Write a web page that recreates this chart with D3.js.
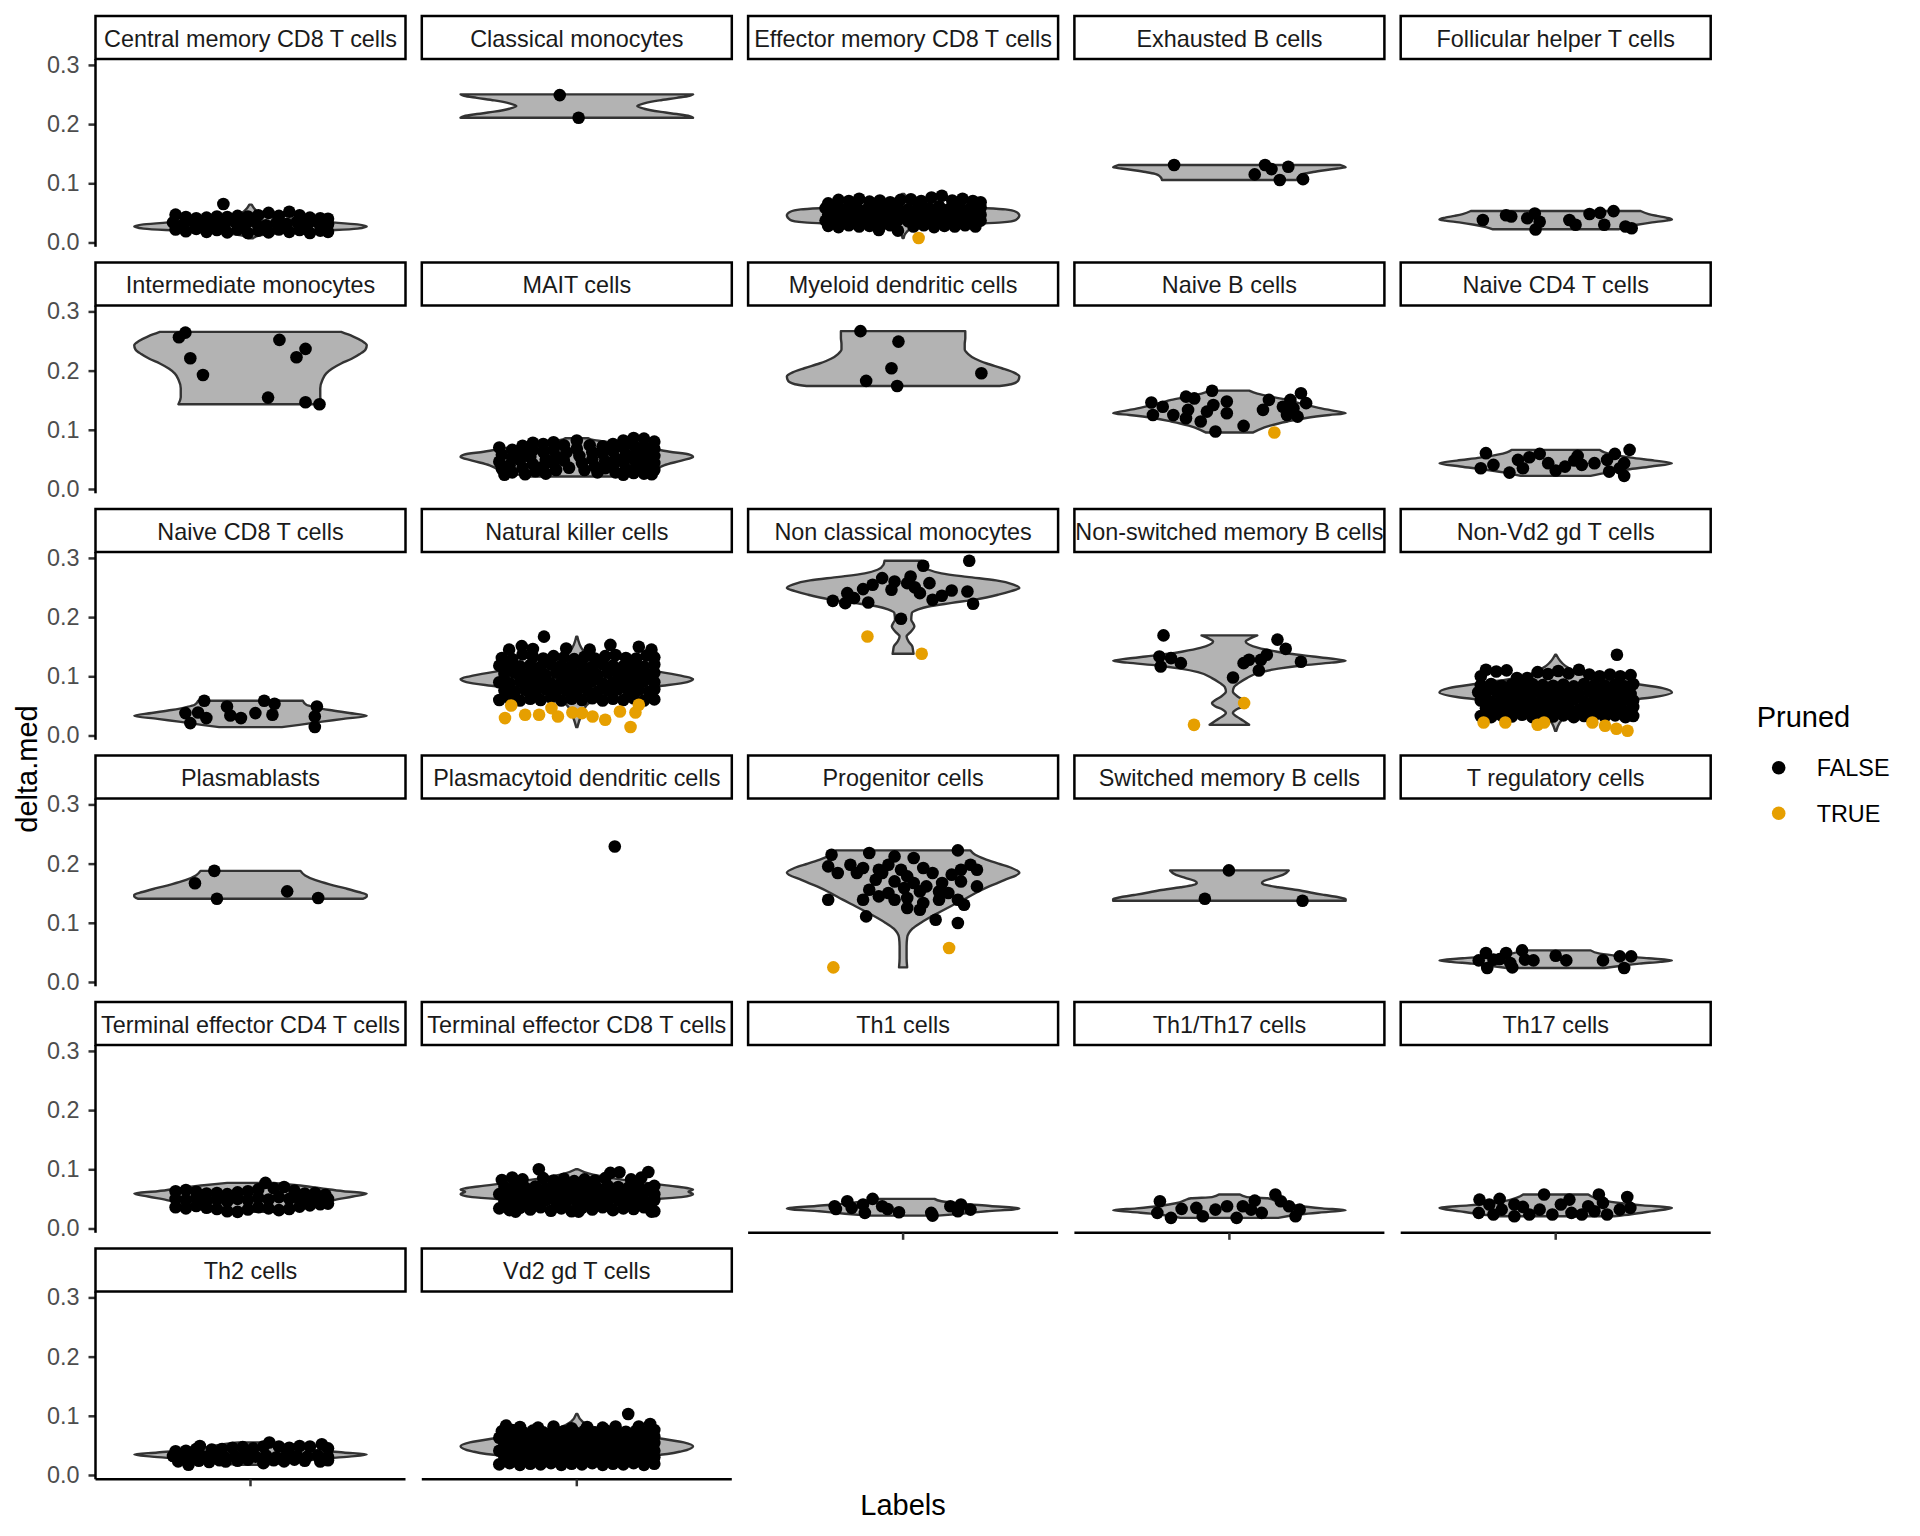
<!DOCTYPE html>
<html><head><meta charset="utf-8">
<script src="https://cdn.jsdelivr.net/npm/d3@7"></script>
<style>body{margin:0;background:#fff}svg{display:block}text{font-family:"Liberation Sans",Arial,Helvetica,sans-serif}</style>
</head><body>
<svg id="chart" width="1920" height="1536"></svg>
<script>
// ---------------- DATA ----------------
const labels = [
"Central memory CD8 T cells","Classical monocytes","Effector memory CD8 T cells","Exhausted B cells","Follicular helper T cells",
"Intermediate monocytes","MAIT cells","Myeloid dendritic cells","Naive B cells","Naive CD4 T cells",
"Naive CD8 T cells","Natural killer cells","Non classical monocytes","Non-switched memory B cells","Non-Vd2 gd T cells",
"Plasmablasts","Plasmacytoid dendritic cells","Progenitor cells","Switched memory B cells","T regulatory cells",
"Terminal effector CD4 T cells","Terminal effector CD8 T cells","Th1 cells","Th1/Th17 cells","Th17 cells",
"Th2 cells","Vd2 gd T cells"];

// violin outline per label: "delta.med,relativeWidth" pairs
const violins = [
"0.0071,0.02 0.012,0.08 0.016,0.25 0.019,0.5 0.021,0.73 0.0235,0.92 0.027,1 0.0305,0.92 0.0335,0.73 0.037,0.45 0.041,0.25 0.046,0.12 0.052,0.06 0.058,0.03 0.064,0.01",
"0.2108,1 0.2135,0.97 0.217,0.86 0.221,0.71 0.226,0.58 0.2306,0.52 0.235,0.58 0.24,0.71 0.2443,0.86 0.2478,0.97 0.2503,1",
"0.0075,0.005 0.015,0.02 0.022,0.06 0.027,0.2 0.031,0.55 0.034,0.85 0.038,0.97 0.046,1 0.052,0.97 0.056,0.88 0.059,0.6 0.063,0.3 0.068,0.12 0.075,0.04 0.082,0.01",
"0.1056,0.58 0.11,0.59 0.1135,0.61 0.116,0.64 0.119,0.72 0.122,0.82 0.125,0.93 0.127,1 0.129,0.98 0.131,0.95",
"0.0223,0.54 0.026,0.6 0.03,0.7 0.034,0.83 0.037,0.95 0.039,1 0.042,0.95 0.045,0.87 0.048,0.8 0.0532,0.73",
"0.1432,0.62 0.155,0.6 0.17,0.6 0.185,0.62 0.195,0.65 0.203,0.7 0.212,0.78 0.22,0.87 0.228,0.94 0.236,0.99 0.243,1 0.25,0.96 0.258,0.88 0.2655,0.78",
"0.021,0.4 0.026,0.55 0.032,0.66 0.04,0.75 0.048,0.9 0.054,1 0.058,0.97 0.063,0.8 0.068,0.65 0.075,0.45 0.08,0.25 0.083,0.14 0.0858,0.1",
"0.174,0.83 0.177,0.93 0.183,0.99 0.19,1 0.197,0.95 0.204,0.85 0.212,0.72 0.22,0.62 0.228,0.56 0.236,0.53 0.245,0.53 0.255,0.535 0.2667,0.535",
"0.0953,0.2 0.1,0.25 0.107,0.35 0.114,0.5 0.12,0.66 0.125,0.86 0.128,1 0.132,0.9 0.138,0.75 0.145,0.6 0.1505,0.5 0.156,0.35 0.161,0.24 0.1662,0.17",
"0.0221,0.3 0.028,0.45 0.033,0.62 0.038,0.82 0.0436,1 0.048,0.85 0.053,0.65 0.058,0.5 0.062,0.42 0.066,0.38",
"0.0142,0.27 0.018,0.42 0.023,0.6 0.028,0.8 0.0333,1 0.038,0.85 0.043,0.68 0.048,0.55 0.052,0.48 0.0586,0.45",
"0.0142,0.005 0.03,0.03 0.05,0.08 0.065,0.2 0.075,0.4 0.083,0.7 0.09,0.95 0.0953,1 0.1,0.92 0.108,0.7 0.118,0.4 0.13,0.15 0.145,0.05 0.167,0.005",
"0.138,0.09 0.144,0.085 0.1503,0.08 0.158,0.05 0.1672,0.03 0.176,0.07 0.184,0.097 0.19,0.085 0.1954,0.07 0.2068,0.075 0.213,0.13 0.218,0.22 0.224,0.42 0.23,0.63 0.238,0.82 0.244,0.93 0.249,1 0.255,0.95 0.262,0.8 0.268,0.55 0.274,0.33 0.28,0.22 0.288,0.17 0.2951,0.16",
"0.018,0.17 0.025,0.12 0.031,0.07 0.0378,0.03 0.044,0.06 0.049,0.12 0.0547,0.15 0.06,0.12 0.066,0.07 0.0743,0.03 0.082,0.04 0.0885,0.08 0.097,0.15 0.107,0.27 0.113,0.42 0.1183,0.62 0.123,0.88 0.1262,1 0.13,0.87 0.1334,0.72 0.138,0.52 0.1419,0.4 0.148,0.25 0.1588,0.14 0.164,0.18 0.1691,0.24",
"0.0079,0.005 0.02,0.03 0.035,0.1 0.048,0.25 0.058,0.55 0.065,0.85 0.0727,1 0.08,0.92 0.0873,0.68 0.095,0.4 0.105,0.2 0.118,0.08 0.1363,0.005",
"0.1407,0.97 0.1445,1 0.1474,1 0.152,0.93 0.158,0.82 0.165,0.68 0.172,0.56 0.18,0.47 0.1878,0.43",
"",
"0.0247,0.035 0.04,0.03 0.06,0.03 0.075,0.035 0.0828,0.05 0.09,0.08 0.0997,0.15 0.108,0.22 0.1166,0.3 0.128,0.41 0.1391,0.52 0.15,0.62 0.1615,0.74 0.172,0.87 0.1845,1 0.193,0.93 0.2,0.82 0.208,0.7 0.215,0.62 0.2223,0.58",
"0.1373,1 0.14,1 0.1435,0.93 0.147,0.82 0.1503,0.72 0.155,0.6 0.16,0.42 0.164,0.31 0.1672,0.28 0.171,0.3 0.176,0.38 0.181,0.46 0.1885,0.51",
"0.0236,0.42 0.027,0.55 0.031,0.72 0.034,0.9 0.0365,1 0.04,0.8 0.044,0.55 0.048,0.38 0.0534,0.3",
"0.028,0.3 0.032,0.4 0.04,0.55 0.048,0.72 0.054,0.88 0.059,1 0.063,0.8 0.068,0.6 0.073,0.4 0.077,0.2",
"0.0285,0.005 0.035,0.05 0.042,0.15 0.048,0.55 0.053,0.9 0.058,1 0.062,0.96 0.066,1 0.071,0.85 0.077,0.6 0.085,0.3 0.093,0.1 0.1,0.01",
"0.0218,0.3 0.025,0.5 0.029,0.72 0.0336,1 0.038,0.75 0.042,0.5 0.046,0.33 0.05,0.27",
"0.0179,0.42 0.024,0.62 0.028,0.85 0.0307,1 0.034,0.8 0.038,0.6 0.043,0.45 0.048,0.38 0.051,0.33 0.053,0.15 0.0573,0.09",
"0.0206,0.5 0.024,0.65 0.029,0.82 0.0348,1 0.039,0.75 0.043,0.55 0.048,0.4 0.0573,0.28",
"0.0172,0.1 0.02,0.3 0.027,0.6 0.031,0.85 0.0346,1 0.038,0.8 0.043,0.5 0.048,0.35 0.053,0.2 0.055,0.1",
"0.0172,0.005 0.022,0.05 0.028,0.2 0.033,0.65 0.04,0.9 0.0487,1 0.055,0.92 0.0629,0.68 0.072,0.35 0.08,0.15 0.09,0.05 0.1031,0.005"
];

// jittered points (Pruned = FALSE): "jitterOffset,delta.med"
const falsePts = [
"-.29,.047 -.25,.043 -.21,.041 -.17,.042 -.13,.044 -.09,.043 -.05,.045 -.01,.044 .03,.046 .07,.05 .11,.045 .15,.052 .19,.046 .23,.042 .27,.041 .30,.040 -.30,.034 -.26,.031 -.22,.035 -.18,.030 -.14,.033 -.10,.030 -.06,.035 -.02,.031 .02,.034 .06,.029 .10,.033 .14,.031 .18,.035 .22,.030 .26,.034 .30,.031 -.29,.022 -.25,.019 -.21,.023 -.17,.018 -.13,.021 -.09,.017 -.05,.022 -.01,.016 .03,.020 .07,.017 .11,.022 .15,.018 .19,.021 .23,.016 .27,.020 .30,.018 -.105,.065",
"-.066,.249 .007,.2108",
"-.29,.066 -.25,.072 -.21,.070 -.17,.074 -.13,.069 -.09,.071 -.05,.068 -.01,.072 .03,.073 .07,.070 .11,.076 .15,.079 .19,.071 .23,.074 .27,.070 .30,.068 -.30,.058 -.26,.060 -.22,.057 -.18,.059 -.14,.056 -.10,.060 -.06,.057 -.02,.059 .02,.056 .06,.060 .10,.058 .14,.061 .18,.057 .22,.060 .26,.058 .30,.059 -.29,.047 -.25,.045 -.21,.048 -.17,.046 -.13,.049 -.09,.045 -.05,.047 -.01,.046 .03,.048 .07,.045 .11,.047 .15,.049 .19,.046 .23,.048 .27,.045 .30,.047 -.30,.037 -.26,.035 -.22,.038 -.18,.036 -.14,.034 -.10,.037 -.06,.035 -.02,.038 .02,.036 .06,.034 .10,.037 .14,.035 .18,.038 .22,.036 .26,.034 .30,.037 -.29,.028 -.25,.026 -.21,.029 -.17,.027 -.13,.028 -.09,.026 -.05,.029 .04,.027 .08,.029 .12,.026 .16,.028 .20,.027 .24,.029 .28,.027 -.094,.021 -.02,.02",
"-.214,.131 .138,.131 .163,.124 .228,.128 .098,.115 .195,.1056 .285,.107",
"-.282,.038 -.192,.046 -.172,.044 -.081,.049 -.11,.041 -.062,.035 -.078,.022 .053,.038 .077,.030 .131,.048 .172,.050 .224,.053 .188,.030 .27,.027 .294,.024",
"-.252,.2642 -.277,.2564 -.233,.2209 -.184,.1927 .112,.2519 .213,.2367 .178,.2226 .068,.1544 .213,.1466 .267,.1432",
"-.30,.070 -.29,.058 -.30,.046 -.29,.034 -.28,.024 -.25,.066 -.25,.052 -.26,.040 -.25,.028 -.21,.073 -.21,.061 -.22,.049 -.21,.036 -.20,.025 -.17,.078 -.17,.066 -.18,.054 -.17,.042 -.16,.030 -.13,.076 -.13,.063 -.12,.050 -.13,.038 -.12,.026 -.09,.079 -.09,.066 -.08,.055 -.09,.043 -.08,.032 -.05,.074 -.04,.062 -.05,.048 -.03,.036 .0,.082 .0,.068 .01,.056 .02,.044 .03,.032 .05,.074 .06,.062 .06,.050 .07,.038 .08,.028 .10,.072 .10,.060 .11,.047 .11,.035 .14,.076 .14,.064 .15,.052 .14,.040 .15,.028 .18,.082 .18,.070 .19,.058 .18,.046 .19,.034 .18,.024 .22,.086 .22,.074 .23,.062 .22,.050 .23,.038 .22,.027 .26,.085 .26,.072 .27,.060 .26,.048 .27,.036 .26,.026 .30,.080 .30,.068 .30,.056 .30,.044 .30,.032 .29,.025",
"-.165,.2667 -.018,.249 -.045,.204 .303,.1956 -.143,.1826 -.023,.174",
"-.302,.146 -.296,.125 -.258,.139 -.217,.125 -.168,.1196 -.160,.1336 -.168,.156 -.136,.153 -.067,.166 -.111,.1139 -.087,.1307 -.062,.142 -.054,.097 -.010,.1477 -.010,.128 .055,.1066 .130,.1336 .153,.1505 .207,.139 .223,.125 .236,.1505 .264,.1223 .277,.1618 .297,.145 .248,.1365",
"-.27,.0605 -.29,.0351 -.241,.0407 -.179,.0277 -.146,.0491 -.127,.0351 -.102,.0537 -.062,.0593 0,.0311 .036,.0378 .072,.048 .101,.0407 .15,.0436 .199,.0491 .229,.0593 .286,.066 .265,.0436 .207,.0294 .265,.0221 .248,.0351 -.029,.0436 .085,.0559",
"-.179,.0586 -.252,.0378 -.233,.0209 -.203,.0389 -.171,.0294 -.091,.049 -.078,.0338 -.037,.0294 .019,.0378 .053,.0586 .093,.0535 .085,.035 .257,.049 .249,.0321 .249,.0142",
"-.30,.060 -.26,.063 -.22,.059 -.18,.062 -.14,.060 -.10,.064 -.06,.059 -.02,.062 .02,.060 .06,.063 .10,.059 .14,.062 .18,.060 .22,.063 .26,.059 .30,.061 -.28,.076 -.24,.074 -.20,.077 -.16,.075 -.12,.078 -.08,.074 -.04,.076 .0,.075 .04,.077 .08,.074 .12,.076 .16,.078 .20,.075 .24,.077 .28,.074 .30,.078 -.30,.090 -.26,.088 -.22,.091 -.18,.089 -.14,.092 -.10,.088 -.06,.090 -.02,.091 .02,.089 .06,.092 .10,.088 .14,.090 .18,.091 .22,.089 .26,.092 .30,.090 -.28,.104 -.24,.106 -.20,.103 -.16,.105 -.12,.102 -.08,.106 -.04,.104 .0,.103 .04,.105 .08,.102 .12,.106 .16,.104 .20,.103 .24,.105 .28,.102 .30,.106 -.30,.118 -.26,.120 -.22,.117 -.18,.119 -.14,.116 -.10,.120 -.06,.118 -.02,.117 .02,.119 .06,.116 .10,.120 .14,.118 .18,.117 .22,.119 .26,.116 .30,.120 -.29,.131 -.25,.129 -.21,.137 -.17,.133 -.13,.130 -.09,.134 -.05,.132 -.01,.129 .03,.133 .07,.130 .11,.134 .15,.136 .19,.131 .23,.130 .27,.135 .30,.132 -.127,.167 -.213,.151 -.262,.145 -.041,.147 .13,.153 .24,.15 .289,.145 .05,.145 -.17,.146",
".256,.2951 .078,.2867 .029,.2686 -.033,.2601 -.081,.2659 -.118,.2546 -.155,.2473 -.216,.2405 -.272,.2275 -.224,.2236 -.135,.2247 -.045,.2461 .016,.2574 .065,.2405 .102,.2574 .114,.2292 .188,.2449 .249,.2432 .271,.2225 -.008,.1971 -.19,.232 .045,.2505 .15,.236",
"-.255,.1691 -.271,.1334 -.266,.1166 -.226,.1307 -.188,.1222 .014,.0979 .055,.1222 .076,.1279 .114,.1098 .122,.1279 .145,.1363 .186,.162 .218,.1464 .277,.1245",
"-.29,.033 -.25,.031 -.21,.034 -.17,.032 -.13,.035 -.09,.031 -.05,.033 -.01,.032 .03,.034 .07,.031 .11,.033 .15,.035 .19,.032 .23,.034 .27,.031 .30,.033 -.27,.046 -.23,.044 -.19,.047 -.15,.045 -.11,.048 -.07,.044 -.03,.046 .01,.045 .05,.047 .09,.044 .13,.046 .17,.048 .21,.045 .25,.047 .29,.044 .30,.048 -.29,.059 -.25,.057 -.21,.060 -.17,.058 -.13,.061 -.09,.057 -.05,.059 -.01,.060 .03,.058 .07,.061 .11,.057 .15,.059 .19,.060 .23,.058 .27,.061 .30,.059 -.27,.072 -.23,.074 -.19,.071 -.15,.073 -.11,.070 -.07,.074 -.03,.072 .01,.071 .05,.073 .09,.070 .13,.074 .17,.072 .21,.071 .25,.073 .29,.070 -.30,.073 -.29,.085 -.25,.087 -.21,.084 -.17,.086 -.13,.083 -.09,.087 -.05,.085 -.01,.084 .03,.086 .07,.083 .11,.087 .15,.085 .19,.084 .23,.086 .27,.083 .30,.087 -.29,.1 -.27,.111 -.23,.108 -.19,.11 -.15,.097 -.11,.097 -.07,.107 -.03,.104 .01,.109 .05,.105 .09,.111 .13,.103 .17,.1 .21,.103 .25,.1 .29,.102 .237,.1363",
"-.14,.1878 -.215,.1669 -.13,.1407 .142,.1531 .262,.142",
".147,.229",
"-.277,.215 -.131,.2179 -.033,.2122 .041,.2095 .212,.2223 -.29,.1953 -.253,.1841 -.204,.1981 -.155,.1926 -.094,.1897 -.057,.1981 -.008,.1897 .016,.1784 .078,.1926 .114,.1841 .188,.1813 .224,.1897 .261,.1981 .286,.1897 -.106,.1728 -.033,.1699 .041,.1672 .09,.1615 .151,.1672 .224,.1699 .286,.1615 -.131,.1559 -.057,.1503 .004,.1588 .065,.153 .139,.153 -.29,.139 -.155,.139 -.094,.1446 -.033,.139 .016,.1419 .078,.1334 .139,.139 .212,.139 .236,.1306 .016,.125 .065,.1221 -.143,.1108 .126,.1052 .212,.0997 -.081,.1841 -.179,.1841 .175,.1503",
"-.002,.1885 -.095,.1407 .283,.1373",
"-.27,.049 -.298,.0365 -.265,.0236 -.241,.0377 -.192,.049 -.176,.0321 -.168,.0247 -.13,.0534 -.119,.0377 -.086,.0365 0,.0444 .041,.0365 .183,.0365 .248,.0433 .292,.0433 .265,.0236 -.217,.0389",
"-.29,.063 -.25,.065 -.21,.062 -.17,.059 -.13,.060 -.09,.058 -.05,.061 -.01,.063 .03,.066 .058,.077 .09,.068 .13,.070 .17,.064 .21,.059 .25,.060 .29,.057 -.29,.050 -.25,.048 -.21,.051 -.17,.047 -.13,.049 -.09,.046 -.05,.050 -.01,.048 .03,.052 .07,.049 .11,.053 .15,.050 .19,.048 .23,.051 .27,.049 .30,.050 -.29,.036 -.25,.034 -.21,.038 -.17,.035 -.13,.033 -.09,.029 -.05,.028 -.01,.032 .03,.036 .07,.034 .11,.031 .15,.033 .19,.037 .23,.039 .27,.041 .30,.042",
"-.30,.034 -.26,.031 -.22,.035 -.18,.032 -.14,.036 -.10,.030 -.06,.034 -.02,.029 .02,.035 .06,.032 .10,.036 .14,.031 .18,.034 .22,.033 .26,.036 .30,.029 -.28,.046 -.24,.044 -.20,.047 -.16,.045 -.12,.048 -.08,.044 -.04,.046 .0,.045 .04,.047 .08,.044 .12,.046 .16,.048 .20,.045 .24,.047 .28,.044 .30,.048 -.30,.058 -.26,.056 -.22,.059 -.18,.057 -.14,.060 -.10,.056 -.06,.058 -.02,.059 .02,.057 .06,.060 .10,.056 .14,.058 .18,.059 .22,.057 .26,.060 .30,.058 -.28,.070 -.24,.072 -.20,.069 -.16,.071 -.12,.068 -.08,.072 -.04,.070 .0,.069 .04,.071 .08,.068 .12,.072 .16,.070 .20,.069 .24,.071 .28,.068 .30,.072 -.29,.082 -.25,.086 -.21,.083 -.147,.100 -.13,.085 -.09,.081 -.05,.084 -.01,.080 .03,.083 .07,.081 .11,.085 .13,.094 .165,.095 .21,.083 .25,.086 .277,.0955 -.237,.0285 .007,.0285 .289,.0285",
"-.265,.0375 -.216,.046 -.199,.0348 -.155,.0404 -.148,.0264 -.118,.05 -.081,.0375 -.016,.0274 .109,.0264 .114,.0218 .183,.0375 .224,.0404 .261,.0319 .212,.029 -.26,.033 -.06,.033",
"-.269,.046 -.279,.0263 -.226,.0179 -.185,.0331 -.128,.0348 -.103,.0206 -.054,.0319 -.009,.0375 .028,.0179 .052,.0375 .098,.0471 .125,.0263 .178,.0573 .199,.046 .231,.0375 .256,.0206 .272,.0319 .084,.0319",
"-.295,.0488 -.298,.0263 -.257,.0404 -.217,.05 -.241,.0235 -.209,.0319 -.16,.0206 -.127,.0365 -.102,.0235 -.045,.0573 -.062,.0319 -.013,.0235 .02,.0404 .053,.0488 .061,.0263 .101,.0235 .126,.0375 .167,.0573 .183,.0432 .199,.0235 .248,.0319 .277,.0533 .289,.0348 -.16,.0404 .15,.029",
"-.29,.040 -.25,.041 -.21,.044 -.196,.049 -.15,.043 -.11,.044 -.07,.046 -.03,.047 .01,.045 .05,.048 .073,.055 .11,.048 .15,.046 .19,.049 .23,.048 .276,.052 .30,.045 -.30,.032 -.26,.030 -.22,.033 -.18,.031 -.14,.034 -.10,.030 -.06,.032 -.02,.034 .02,.031 .06,.033 .10,.030 .14,.034 .18,.032 .22,.031 .26,.033 .30,.031 -.28,.023 -.24,.0172 -.20,.024 -.16,.022 -.12,.025 -.096,.0228 -.05,.024 -.01,.026 .05,.020 .09,.025 .13,.023 .17,.026 .21,.024 .27,.0228 .30,.025",
"-.30,.018 -.26,.020 -.22,.017 -.18,.019 -.14,.018 -.10,.020 -.06,.017 -.02,.019 .02,.018 .06,.020 .10,.017 .14,.019 .18,.018 .22,.020 .26,.017 .30,.019 -.28,.030 -.24,.028 -.20,.031 -.16,.029 -.12,.032 -.08,.028 -.04,.030 .0,.029 .04,.031 .08,.028 .12,.030 .16,.032 .20,.029 .24,.031 .28,.028 .30,.030 -.30,.041 -.26,.039 -.22,.042 -.18,.040 -.14,.043 -.10,.039 -.06,.041 -.02,.042 .02,.040 .06,.043 .10,.039 .14,.041 .18,.042 .22,.040 .26,.043 .30,.041 -.28,.052 -.24,.054 -.20,.051 -.16,.053 -.12,.050 -.08,.054 -.04,.052 .0,.051 .04,.053 .08,.050 .12,.054 .16,.052 .20,.051 .24,.053 .28,.050 .30,.054 -.30,.063 -.26,.065 -.22,.062 -.18,.064 -.14,.061 -.10,.065 -.06,.063 -.02,.062 .02,.064 .06,.061 .10,.065 .14,.063 .18,.062 .22,.064 .26,.061 .30,.065 -.29,.074 -.25,.076 -.21,.073 -.17,.075 -.13,.072 -.09,.076 -.05,.074 -.01,.073 .03,.075 .07,.072 .11,.076 .15,.074 .19,.073 .23,.075 .27,.072 .30,.076 -.274,.0834 -.22,.081 -.15,.080 -.09,.082 -.02,.079 .04,.081 .10,.080 .15,.082 .199,.1031 .24,.082 .284,.0862"
];

// jittered points (Pruned = TRUE)
const truePts = [
"", "", ".06,.0075", "", "", "", "", "", ".174,.0953", "", "",
"-.254,.0507 -.278,.0294 -.2,.035 -.146,.035 -.098,.0463 -.073,.0321 -.017,.0389 .061,.0321 .11,.0265 .167,.0405 .227,.0389 .208,.0142 .02,.0378 .24,.0519",
"-.138,.1672 .072,.138",
".057,.0547 -.137,.018",
"-.279,.022 -.195,.022 -.07,.0181 -.045,.022 .142,.022 .191,.0164 .235,.0113 .278,.0079",
"", "",
"-.27,.0247 .178,.0574",
"", "", "", "", "", "", "", "", ""
];

const yTicks = [0, 0.1, 0.2, 0.3];
const yTickLabels = ["0.0", "0.1", "0.2", "0.3"];
const legendLevels = ["FALSE", "TRUE"];
const legendColors = ["#000000", "#E69F00"];
const yTitle = "delta.med", xTitle = "Labels", legendTitle = "Pruned";

// ---------------- DRAW ----------------
const parse = s => s.trim() ? s.trim().split(/\s+/).map(p => p.split(",").map(Number)) : [];
const FONT = '"Liberation Sans",Arial,Helvetica,sans-serif';

const svg = d3.select("#chart");
svg.append("rect").attr("width", 1920).attr("height", 1536).attr("fill", "#fff");

const ncol = 5, colX0 = 95.5, colStep = 326.3, panelW = 310;
const rowY0 = 16, rowStep = 246.5, stripH = 43, panelH = 187.8;
const ptR = 6.3, lw = 2.5, smallFont = 23.4, titleFont = 29;

const x = d3.scaleLinear().domain([-0.6, 0.6]).range([0, panelW]);
const y = d3.scaleLinear().domain([-0.0073, 0.31]).range([panelH, 0]);
const halfW = 0.45;

const area = d3.area()
  .y(d => y(d[0]))
  .x0(d => x(-halfW * d[1]))
  .x1(d => x(halfW * d[1]))
  .curve(d3.curveMonotoneY);

labels.forEach((lab, i) => {
  const c = i % ncol, r = Math.floor(i / ncol);
  const gx = colX0 + c * colStep, gy = rowY0 + r * rowStep;
  const strip = svg.append("g").attr("transform", `translate(${gx},${gy})`);
  strip.append("rect").attr("x", 0).attr("y", 0).attr("width", panelW).attr("height", stripH)
    .attr("fill", "#fff").attr("stroke", "#000").attr("stroke-width", lw);
  strip.append("text").attr("x", panelW / 2).attr("y", 30.5).attr("text-anchor", "middle")
    .attr("font-size", smallFont).attr("fill", "#1A1A1A").text(lab);

  const g = svg.append("g").attr("transform", `translate(${gx},${gy + stripH})`);
  const prof = parse(violins[i]);
  if (prof.length) {
    g.append("path").datum(prof).attr("d", area)
      .attr("fill", "#B3B3B3").attr("stroke", "#333333").attr("stroke-width", 2.4)
      .attr("stroke-linejoin", "round");
  }
  g.selectAll("circle.f").data(parse(falsePts[i])).join("circle").attr("class", "f")
    .attr("cx", d => x(d[0])).attr("cy", d => y(d[1])).attr("r", ptR).attr("fill", legendColors[0]);
  g.selectAll("circle.t").data(parse(truePts[i])).join("circle").attr("class", "t")
    .attr("cx", d => x(d[0])).attr("cy", d => y(d[1])).attr("r", ptR).attr("fill", legendColors[1]);

  if (c === 0) {
    const ax = g.append("g").call(d3.axisLeft(y).tickValues(yTicks)
      .tickFormat((d, k) => yTickLabels[k]).tickSize(7).tickPadding(9));
    ax.select(".domain").remove();
    ax.selectAll(".tick line").attr("stroke", "#333333").attr("stroke-width", lw);
    ax.selectAll(".tick text").attr("font-size", smallFont).attr("fill", "#4D4D4D")
      .attr("font-family", FONT);
    g.append("line").attr("x1", 0).attr("x2", 0).attr("y1", 0).attr("y2", panelH)
      .attr("stroke", "#000").attr("stroke-width", lw);
  }
  if (i + ncol >= labels.length) {
    g.append("line").attr("x1", 0).attr("x2", panelW).attr("y1", panelH).attr("y2", panelH)
      .attr("stroke", "#000").attr("stroke-width", lw);
    g.append("line").attr("x1", x(0)).attr("x2", x(0)).attr("y1", panelH).attr("y2", panelH + 7)
      .attr("stroke", "#333333").attr("stroke-width", lw);
  }
});

// axis titles
svg.append("text").attr("transform", "translate(37,769) rotate(-90)").attr("text-anchor", "middle")
  .attr("font-size", titleFont).attr("fill", "#000").text(yTitle);
svg.append("text").attr("x", 903).attr("y", 1515).attr("text-anchor", "middle")
  .attr("font-size", titleFont).attr("fill", "#000").text(xTitle);

// legend
const lg = svg.append("g");
lg.append("text").attr("x", 1756.7).attr("y", 726.5).attr("font-size", titleFont).attr("fill", "#000").text(legendTitle);
legendLevels.forEach((lv, k) => {
  lg.append("circle").attr("cx", 1778.7).attr("cy", 767.7 + k * 45.6).attr("r", 6.8).attr("fill", legendColors[k]);
  lg.append("text").attr("x", 1816.7).attr("y", 767.7 + k * 45.6 + 8.4).attr("font-size", smallFont)
    .attr("fill", "#000").text(lv);
});
</script>
</body></html>
